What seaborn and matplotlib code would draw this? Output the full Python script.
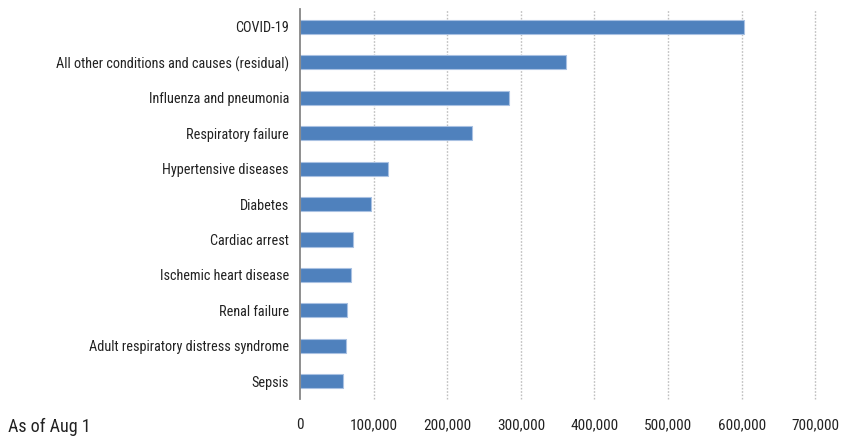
import matplotlib
matplotlib.use("Agg")
import matplotlib.pyplot as plt
from matplotlib import font_manager
from matplotlib.ticker import FuncFormatter, FixedLocator
import seaborn as sns
import pandas as pd

# Conditions listed on death certificates alongside COVID-19
conditions = [
    "COVID-19",
    "All other conditions and causes (residual)",
    "Influenza and pneumonia",
    "Respiratory failure",
    "Hypertensive diseases",
    "Diabetes",
    "Cardiac arrest",
    "Ischemic heart disease",
    "Renal failure",
    "Adult respiratory distress syndrome",
    "Sepsis",
]
deaths = [603000, 361000, 284000, 234000, 119000, 97000, 72000, 69000, 64000, 63000, 58000]
x_ticks = [0, 100000, 200000, 300000, 400000, 500000, 600000, 700000]
note = "As of Aug 1"

sns.set_theme(style="white")

available = {f.name for f in font_manager.fontManager.ttflist}
family = [f for f in ["Liberation Sans Narrow", "Roboto Condensed", "Open Sans Condensed",
                      "DejaVu Sans Condensed", "Liberation Sans", "DejaVu Sans"] if f in available]
plt.rcParams["font.family"] = family

df = pd.DataFrame({"condition": conditions, "deaths": deaths})

fig = plt.figure(figsize=(8.43, 4.37), dpi=100)
ax = fig.add_axes([0.356, 0.087, 0.611, 0.892])

sns.barplot(data=df, x="deaths", y="condition", orient="h", color="#4F81BD",
            saturation=1, width=0.4, edgecolor="#A9C1E2", linewidth=0.8, ax=ax)

ax.set_xlim(0, 700000)
ax.set_ylim(len(conditions) - 0.5, -0.5)
ax.xaxis.set_major_locator(FixedLocator(x_ticks))
ax.xaxis.set_major_formatter(FuncFormatter(lambda v, p: f"{int(v):,}"))
ax.set_xlabel("")
ax.set_ylabel("")

# dotted vertical gridlines
for v in x_ticks[1:]:
    ax.axvline(v, color="#BFBFBF", linestyle=(0, (1.2, 1.2)), linewidth=1.0,
               zorder=0, clip_on=False)

for s in ["top", "right", "bottom"]:
    ax.spines[s].set_visible(False)
ax.spines["left"].set_color("#868686")
ax.spines["left"].set_linewidth(1.3)

ax.tick_params(axis="x", length=0, pad=14, labelsize=11, colors="#222222")
ax.tick_params(axis="y", which="major", length=0, pad=8, labelsize=10.3, colors="#222222")
ax.set_yticks([i - 0.5 for i in range(len(conditions) + 1)], minor=True)
ax.tick_params(axis="y", which="minor", length=5, width=1.3, color="#868686", direction="out")

fig.text(8 / 843, 1 - 427 / 437, note, fontsize=13, color="#222222", va="center", ha="left")

fig.savefig("out.png", dpi=100)
